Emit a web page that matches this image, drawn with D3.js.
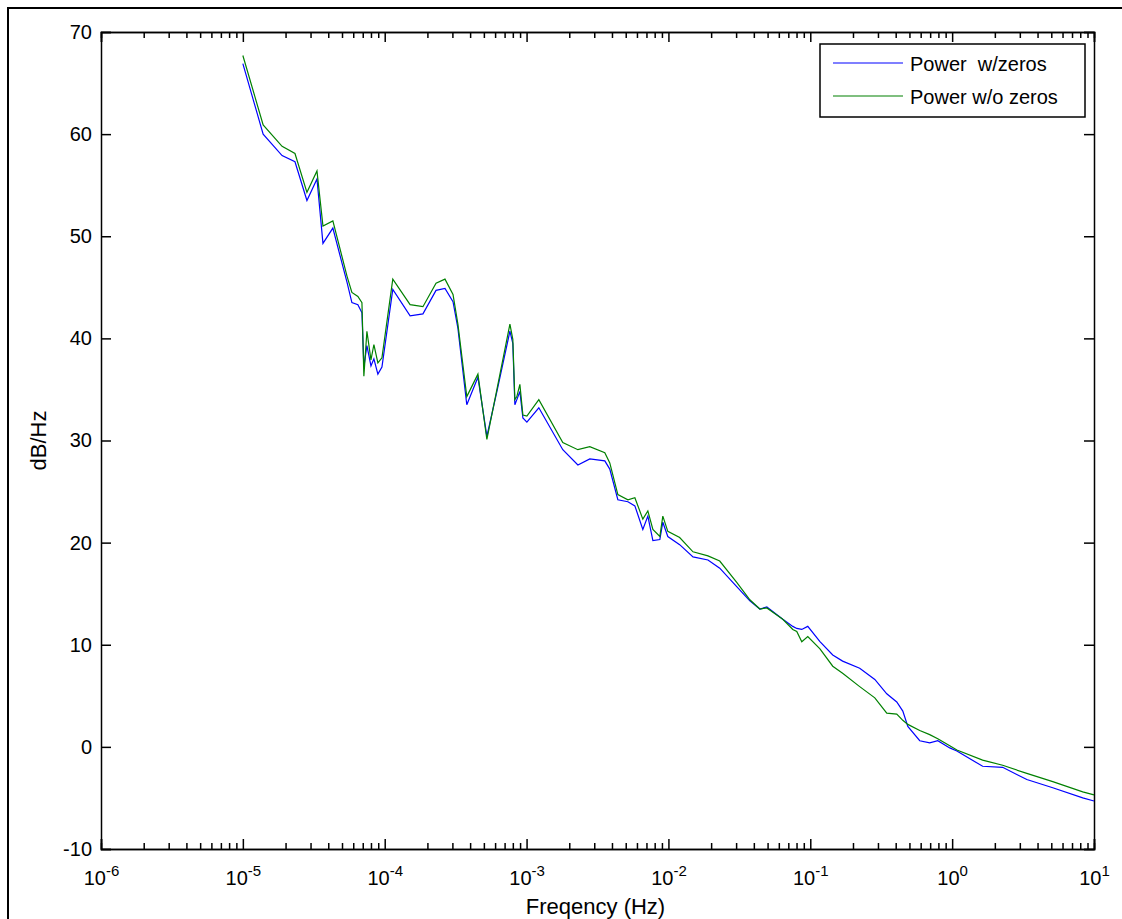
<!DOCTYPE html>
<html>
<head>
<meta charset="utf-8">
<script src="https://cdn.jsdelivr.net/npm/d3@7"></script>
<style>
  body { margin: 0; background: #fff; }
  svg { display: block; font-family: "Liberation Sans", Arial, sans-serif; }
  .tick text { font-size: 20px; fill: #000; }
  .lbl { white-space: pre; }
</style>
</head>
<body>
<script>
// frequency grid (Hz) shared by both curves
var freq = [1.0e-5, 1.39e-5, 1.89e-5, 2.33e-5, 2.83e-5, 3.33e-5, 3.67e-5, 4.31e-5, 5.42e-5, 5.87e-5,
    6.47e-5, 6.91e-5, 7.13e-5, 7.49e-5, 8.0e-5, 8.39e-5, 8.95e-5, 9.56e-5, 1.14e-4, 1.51e-4,
    1.86e-4, 2.30e-4, 2.66e-4, 3.03e-4, 3.28e-4, 3.79e-4, 4.54e-4, 5.25e-4, 6.18e-4, 7.63e-4,
    8.0e-4, 8.27e-4, 8.54e-4, 8.97e-4, 9.42e-4, 1.005e-3, 1.22e-3, 1.80e-3, 2.30e-3, 2.79e-3,
    3.56e-3, 3.86e-3, 4.40e-3, 5.18e-3, 5.80e-3, 6.60e-3, 7.16e-3, 7.77e-3, 8.70e-3, 9.13e-3,
    9.90e-3, 1.20e-2, 1.49e-2, 1.90e-2, 2.30e-2, 3.03e-2, 3.75e-2, 4.41e-2, 4.94e-2, 6.40e-2,
    7.53e-2, 8.03e-2, 8.71e-2, 9.60e-2, 0.117, 0.144, 0.169, 0.223, 0.285, 0.346,
    0.407, 0.449, 0.487, 0.591, 0.695, 0.792, 0.962, 1.08, 1.64, 2.27,
    3.36, 5.12, 8.33, 10];

var powerWithZeros = [66.9, 60.0, 57.9, 57.3, 53.5, 55.6, 49.3, 50.8, 45.5, 43.5,
    43.3, 42.5, 37.2, 39.3, 37.3, 38.0, 36.5, 37.2, 44.8, 42.2,
    42.4, 44.7, 44.9, 43.6, 41.0, 33.5, 36.2, 30.4, 34.8, 40.7,
    39.5, 33.5, 34.0, 34.8, 32.2, 31.8, 33.2, 29.1, 27.6, 28.2,
    28.0, 27.2, 24.2, 24.0, 23.6, 21.3, 22.6, 20.2, 20.3, 22.0,
    20.6, 19.8, 18.6, 18.3, 17.5, 15.7, 14.3, 13.5, 13.7, 12.5,
    11.8, 11.6, 11.5, 11.8, 10.3, 9.0, 8.4, 7.7, 6.6, 5.2,
    4.4, 3.5, 2.0, 0.6, 0.4, 0.6, -0.1, -0.4, -1.9, -2.0,
    -3.2, -4.0, -5.0, -5.3];

var powerWithoutZeros = [67.7, 60.9, 58.8, 58.1, 54.3, 56.4, 51.0, 51.5, 46.1, 44.5,
    44.1, 43.5, 36.3, 40.7, 37.9, 39.4, 37.6, 38.1, 45.8, 43.3,
    43.1, 45.4, 45.8, 44.3, 41.4, 34.3, 36.5, 30.1, 35.0, 41.4,
    39.9, 34.0, 34.3, 35.5, 32.5, 32.4, 34.0, 29.8, 29.1, 29.4,
    28.8, 27.8, 24.7, 24.2, 24.4, 22.3, 23.1, 21.3, 20.6, 22.6,
    21.1, 20.5, 19.1, 18.7, 18.2, 16.1, 14.4, 13.5, 13.6, 12.5,
    11.5, 11.3, 10.3, 10.8, 9.6, 7.9, 7.2, 5.9, 4.8, 3.3,
    3.2, 2.6, 2.2, 1.6, 1.2, 0.8, 0.1, -0.3, -1.3, -1.8,
    -2.6, -3.4, -4.4, -4.7];

var xMajorExp = [-6, -5, -4, -3, -2, -1, 0, 1];
var yTicks = [-10, 0, 10, 20, 30, 40, 50, 60, 70];
var seriesNames = ["Power  w/zeros", "Power w/o zeros"];
var seriesColors = ["#0000ff", "#008000"];

var svgWidth = 1122;
var svgHeight = 919;
var plot = { left: 101, top: 32, right: 1094, bottom: 849 };

var svg = d3.select("body").append("svg")
    .attr("width", svgWidth)
    .attr("height", svgHeight);

// outer figure frame
svg.append("rect")
    .attr("x", 8).attr("y", 8)
    .attr("width", 1130).attr("height", 930)
    .attr("fill", "none").attr("stroke", "#000").attr("stroke-width", 2);

var x = d3.scaleLog().domain([1e-6, 10]).range([plot.left, plot.right]);
var y = d3.scaleLinear().domain([-10, 70]).range([plot.bottom, plot.top]);

var xMajors = xMajorExp.map(e => Math.pow(10, e));
var xMinors = [];
xMajorExp.slice(0, -1).forEach(e => {
    for (var k = 2; k <= 9; k++) xMinors.push(k * Math.pow(10, e));
});

function supLabel(sel) {
    sel.each(function(d) {
        var t = d3.select(this).text("").attr("y", 36).attr("dy", 0);
        var e = Math.round(Math.log10(d));
        t.append("tspan").text("10");
        t.append("tspan").attr("dy", -9).style("font-size", "15px").text(e);
    });
}

// bottom axis: minor ticks, then major ticks with labels
var gx = svg.append("g").attr("transform", `translate(0,${plot.bottom})`);
gx.call(d3.axisBottom(x).tickValues(xMinors).tickSize(-6).tickFormat(""));
var gxMajor = gx.append("g")
    .call(d3.axisBottom(x).tickValues(xMajors).tickSize(-10).tickFormat(""));
gxMajor.selectAll(".tick text").call(supLabel);

// top axis
var gxt = svg.append("g").attr("transform", `translate(0,${plot.top})`);
gxt.call(d3.axisTop(x).tickValues(xMinors).tickSize(-6).tickFormat(""));
gxt.append("g").call(d3.axisTop(x).tickValues(xMajors).tickSize(-10).tickFormat(""));

// left / right axes
var gy = svg.append("g").attr("transform", `translate(${plot.left},0)`)
    .call(d3.axisLeft(y).tickValues(yTicks).tickSize(-10).tickPadding(9).tickFormat(d => String(d)));
svg.append("g").attr("transform", `translate(${plot.right},0)`)
    .call(d3.axisRight(y).tickValues(yTicks).tickSize(-10).tickFormat(""));

svg.selectAll(".domain").attr("stroke", "#000").attr("stroke-width", 1.5);
svg.selectAll(".tick line").attr("stroke", "#000").attr("stroke-width", 1.5);
svg.selectAll(".tick text").attr("font-family", null).attr("font-size", null);

// curves
var line = d3.line().x((d, i) => x(freq[i])).y(d => y(d));
[powerWithZeros, powerWithoutZeros].forEach((vals, i) => {
    svg.append("path")
        .datum(vals)
        .attr("d", line)
        .attr("fill", "none")
        .attr("stroke", seriesColors[i])
        .attr("stroke-width", 1.2);
});

// axis titles
svg.append("text")
    .attr("x", (plot.left + plot.right) / 2 - 2)
    .attr("y", 914)
    .attr("text-anchor", "middle")
    .style("font-size", "22px")
    .text("Freqency (Hz)");

svg.append("text")
    .attr("transform", `translate(46,${(plot.top + plot.bottom) / 2}) rotate(-90)`)
    .attr("text-anchor", "middle")
    .style("font-size", "22px")
    .text("dB/Hz");

// legend
var legend = svg.append("g");
legend.append("rect")
    .attr("x", 820).attr("y", 44)
    .attr("width", 265).attr("height", 73)
    .attr("fill", "#fff").attr("stroke", "#000").attr("stroke-width", 1.5);
seriesNames.forEach((name, i) => {
    var ly = 63 + i * 33;
    legend.append("line")
        .attr("x1", 833).attr("x2", 903)
        .attr("y1", ly).attr("y2", ly)
        .attr("stroke", seriesColors[i]).attr("stroke-width", 1.2);
    legend.append("text")
        .attr("class", "lbl")
        .attr("x", 910).attr("y", ly + 8)
        .style("font-size", "20px")
        .text(name);
});
</script>
</body>
</html>
